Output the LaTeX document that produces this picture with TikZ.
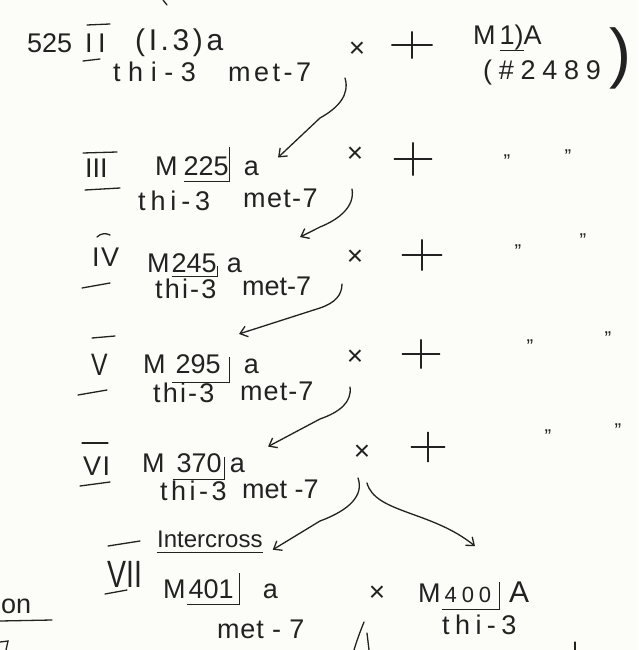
\documentclass[tikz,border=0pt]{standalone}
\usepackage{fontspec}
\usepackage{graphicx}
\setmainfont{Liberation Sans}
\usetikzlibrary{arrows.meta,calc}
\definecolor{ink}{HTML}{222222}
\definecolor{paper}{HTML}{FCFCF8}
% underline
\newcommand\hwul[1]{\setbox0\hbox{#1}\rlap{\rule[-6pt]{\wd0}{1.1pt}}\box0}
% underline ending in a vertical bar: #1 depth, #2 height, #3 text
\newcommand\hwbr[3]{\setbox0\hbox{#3}\rlap{\rule[-#1]{\wd0}{1.1pt}}\box0\rule[-#1]{1.1pt}{\dimexpr#1+#2\relax}}
\tikzset{
  hw/.style={font=\fontsize{27}{30}\selectfont, text=ink, inner sep=0pt, anchor=base west},
  ls/.style={font=\fontsize{27}{30}\selectfont\addfontfeature{LetterSpace=#1}},
  times/.style={font=\fontsize{28}{30}\selectfont, text=ink, inner sep=0pt},
  ditto/.style={font=\fontsize{20}{22}\selectfont, text=ink, inner sep=0pt},
  plusbox/.style={inner sep=0pt, minimum width=38pt, minimum height=28pt},
  stroke/.style={draw=ink, line width=1.3pt, line cap=round},
  arr/.style={stroke, -{Straight Barb[length=7pt,width=11pt,line width=1.3pt]}}
}
\begin{document}
\begin{tikzpicture}[x=1pt,y=-1pt]
\fill[paper] (0,0) rectangle (638,650);
\useasboundingbox (0,0) rectangle (638,650);
\clip (0,0) rectangle (638,650);

% ---------- row II ----------
\node[hw] (n525) at (27,53) {525};
\node[hw,ls=20] (r2) at (85,53) {II};
\draw[stroke] (87,25) -- (110,24);
\draw[stroke] (83,61) -- (100,59);
\node[hw,font=\fontsize{30}{32}\selectfont\addfontfeature{LetterSpace=12}] (g2a) at (135,51) {(I.3)a};
\node[hw,ls=28] (g2b) at (113,82) {thi-3};
\node[hw,ls=13] (g2c) at (228,82) {met-7};
\node[times] (x2) at (357,50) {×};
\node[plusbox, minimum width=40pt, minimum height=26pt] (p2) at (412,45) {};
\draw[stroke] (p2.west) -- (p2.east) (p2.north) -- (p2.south);
\node[hw] (m1) at (473,45) {M\hspace{4pt}\hwul{1)}A};
\node[hw,ls=25] (m1b) at (483,80) {(\#2489};
\node[hw,font=\fontsize{66}{70}\selectfont] (m1c) at (609,76) {)};

% ---------- row III ----------
\node[hw] (r3) at (85,177) {III};
\draw[stroke] (83,153) -- (117,152);
\draw[stroke] (85,190) -- (120,188);
\node[hw] (g3a) at (155,175) {M\hspace{6pt}\hwbr{7pt}{28pt}{225}\hspace{14pt}a};
\node[hw,ls=18] (g3b) at (138,210) {thi-3};
\node[hw,ls=5] (g3c) at (243,207) {met-7};
\node[times] (x3) at (355,155) {×};
\node[plusbox, minimum width=37pt, minimum height=32pt] (p3) at (413,159) {};
\draw[stroke] (p3.west) -- (p3.east) (p3.north) -- (p3.south);
\node[ditto] (d3a) at (507,162) {”};
\node[ditto] (d3b) at (568,157) {”};

% ---------- row IV ----------
\node[hw,ls=5] (r4) at (92,266) {IV};
\draw[stroke] (97,237) .. controls (101,233) and (106,233) .. (110,235);
\draw[stroke] (82,288) -- (110,283);
\node[hw] (g4a) at (147,272) {M\hspace{2pt}\hwbr{5pt}{6pt}{245}\hspace{9pt}a};
\node[hw,ls=8] (g4b) at (155,298) {thi-3};
\node[hw] (g4c) at (242,295) {met-7};
\node[times] (x4) at (355,258) {×};
\node[plusbox, minimum width=39pt, minimum height=30pt] (p4) at (422,255) {};
\draw[stroke] (p4.west) -- (p4.east) (p4.north) -- (p4.south);
\node[ditto] (d4a) at (518,252) {”};
\node[ditto] (d4b) at (583,241) {”};

% ---------- row V ----------
\node[hw,font=\fontsize{31}{34}\selectfont] (r5) at (91,375) {\scalebox{0.8}[1]{V}};
\draw[stroke] (92,338) -- (115,336);
\draw[stroke] (78,395) -- (107,390);
\node[hw] (g5a) at (143,373) {M\hspace{6pt}\hwbr{10pt}{16pt}{\hspace{4pt}295\hspace{8pt}}\hspace{14pt}a};
\node[hw,ls=8] (g5b) at (153,402) {thi-3};
\node[hw,ls=4] (g5c) at (240,400) {met-7};
\node[times] (x5) at (355,358) {×};
\node[plusbox, minimum width=37pt, minimum height=28pt] (p5) at (421,354) {};
\draw[stroke] (p5.west) -- (p5.east) (p5.north) -- (p5.south);
\node[ditto] (d5a) at (530,347) {”};
\node[ditto] (d5b) at (608,339) {”};

% ---------- row VI ----------
\node[hw,ls=5] (r6) at (83,475) {VI};
\draw[stroke] (82,443) -- (108,443);
\draw[stroke] (80,486) -- (110,482);
\node[hw] (g6a) at (142,472) {M\hspace{8pt}\hwbr{8pt}{15pt}{\hspace{4pt}370\hspace{2pt}}\hspace{5pt}a};
\node[hw,ls=13] (g6b) at (160,500) {thi-3};
\node[hw] (g6c) at (242,498) {met -7};
\node[times] (x6) at (362,453) {×};
\node[plusbox, minimum width=33pt, minimum height=29pt] (p6) at (428,447) {};
\draw[stroke] (p6.west) -- (p6.east) (p6.north) -- (p6.south);
\node[ditto] (d6a) at (548,437) {”};
\node[ditto] (d6b) at (618,431) {”};

% ---------- row VII ----------
\node[hw,font=\fontsize{38}{40}\selectfont] (r7) at (107,587) {\scalebox{0.75}[1]{VII}};
\draw[stroke] (108,546) -- (140,541);
\draw[stroke] (105,594) -- (127,590);
\node[hw,font=\fontsize{24}{28}\selectfont] (ic) at (157,547) {\hwul{Intercross}};
\node[hw] (g7a) at (163,598) {M\hspace{1pt}\hwbr{7pt}{25pt}{\hspace{2pt}401\hspace{5pt}}\hspace{23pt}a};
\node[hw,ls=3] (g7b) at (217,638) {met - 7};
\node[times] (x7) at (377,594) {×};
\node[hw] (g7c) at (418,602) {M\hspace{1pt}\hwbr{8pt}{20pt}{\hspace{3pt}{\fontsize{22}{24}\selectfont\addfontfeature{LetterSpace=22}400}\hspace{8pt}}\hspace{9pt}{\fontsize{30}{32}\selectfont A}};
\node[hw,ls=20] (g7d) at (442,634) {thi-3};

% ---------- fragments at the edges ----------
\node[hw] (on) at (1,613) {on};
\draw[stroke] (0,621) -- (52,620);
\draw[stroke] (0,642) -- (8,641) -- (6,650);
\draw[stroke] (163,0) -- (167,5);
\draw[stroke] (354,650) .. controls (357,640) and (360,632) .. (364,622);
\draw[stroke] (367,633) -- (369,650);
\draw[stroke] (575,642) -- (575,650);

% ---------- connectors ----------
\draw[arr] ($(x2.south)+(-12,20)$) .. controls ($(x2.south)+(-7,37)$) and ($(x2.south)+(-19,50)$) .. ($(x2.south)+(-37,60)$) -- ($(g3a.east)+(19,-7)$);
\draw[arr] ($(x3.south)+(-3,26)$) .. controls ($(x3.south)+(0,43)$) and ($(x3.south)+(-15,56)$) .. ($(x3.south)+(-35,64)$) -- ($(g4a.east)+(58,-28)$);
\draw[arr] ($(x4.south)+(-13,18)$) .. controls ($(x4.south)+(-13,29)$) and ($(x4.south)+(-20,37)$) .. ($(x4.south)+(-35,42)$) -- ($(g5a.north east)+(-20,-20)$);
\draw[arr] ($(x5.south)+(-5,21)$) .. controls ($(x5.south)+(-3,36)$) and ($(x5.south)+(-15,46)$) .. ($(x5.south)+(-35,53)$) -- ($(g6a.east)+(23,-20)$);
\draw[arr] ($(x6.south)+(-4,17)$) .. controls ($(x6.south)+(2,34)$) and ($(x6.south)+(-12,49)$) .. ($(x6.south)+(-42,60)$) -- ($(ic.east)+(10,8)$);
\draw[arr] ($(x6.south)+(5,22)$) .. controls ($(x6.south)+(13,52)$) and ($(x6.south)+(70,50)$) .. ($(g7c.north west)+(57,-35)$);
\end{tikzpicture}
\end{document}
